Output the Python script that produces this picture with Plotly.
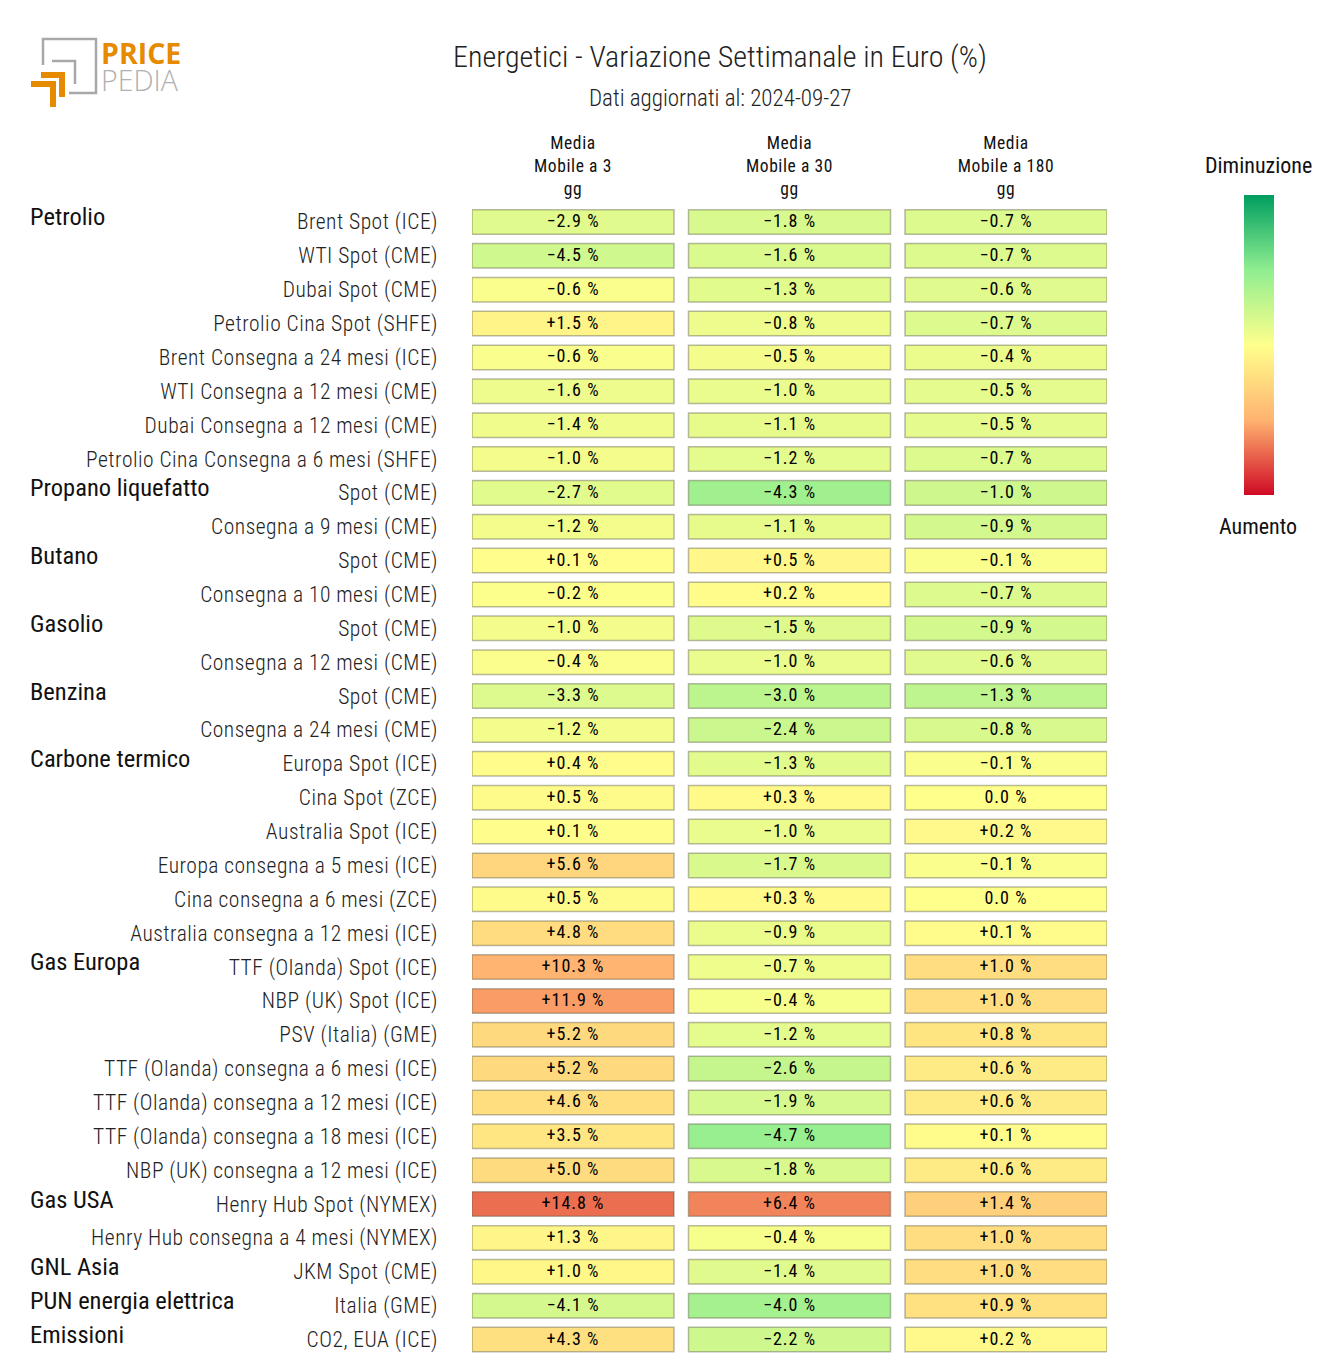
import plotly.graph_objects as go

W = 1320
H = 1357

# nomi delle righe, dall'alto verso il basso
row_labels = [
    'Brent Spot (ICE)', 'WTI Spot (CME)', 'Dubai Spot (CME)', 'Petrolio Cina Spot (SHFE)',
    'Brent Consegna a 24 mesi (ICE)', 'WTI Consegna a 12 mesi (CME)', 'Dubai Consegna a 12 mesi (CME)',
    'Petrolio Cina Consegna a 6 mesi (SHFE)', 'Spot (CME)', 'Consegna a 9 mesi (CME)', 'Spot (CME)',
    'Consegna a 10 mesi (CME)', 'Spot (CME)', 'Consegna a 12 mesi (CME)', 'Spot (CME)',
    'Consegna a 24 mesi (CME)', 'Europa Spot (ICE)', 'Cina Spot (ZCE)', 'Australia Spot (ICE)',
    'Europa consegna a 5 mesi (ICE)', 'Cina consegna a 6 mesi (ZCE)', 'Australia consegna a 12 mesi (ICE)',
    'TTF (Olanda) Spot (ICE)', 'NBP (UK) Spot (ICE)', 'PSV (Italia) (GME)', 'TTF (Olanda) consegna a 6 mesi (ICE)',
    'TTF (Olanda) consegna a 12 mesi (ICE)', 'TTF (Olanda) consegna a 18 mesi (ICE)', 'NBP (UK) consegna a 12 mesi (ICE)',
    'Henry Hub Spot (NYMEX)', 'Henry Hub consegna a 4 mesi (NYMEX)', 'JKM Spot (CME)', 'Italia (GME)', 'CO2, EUA (ICE)',
]

# nome del gruppo e riga dove comincia
group_names = ['Petrolio', 'Propano liquefatto', 'Butano', 'Gasolio', 'Benzina', 'Carbone termico',
               'Gas Europa', 'Gas USA', 'GNL Asia', 'PUN energia elettrica', 'Emissioni']
group_rows = [0, 8, 10, 12, 14, 16, 22, 29, 31, 32, 33]

col_labels = ['Media<br>Mobile a 3<br>gg', 'Media<br>Mobile a 30<br>gg', 'Media<br>Mobile a 180<br>gg']

mm3 = [-2.9, -4.5, -0.6, 1.5, -0.6, -1.6, -1.4, -1.0, -2.7, -1.2, 0.1, -0.2, -1.0, -0.4, -3.3, -1.2, 0.4,
       0.5, 0.1, 5.6, 0.5, 4.8, 10.3, 11.9, 5.2, 5.2, 4.6, 3.5, 5.0, 14.8, 1.3, 1.0, -4.1, 4.3]
mm30 = [-1.8, -1.6, -1.3, -0.8, -0.5, -1.0, -1.1, -1.2, -4.3, -1.1, 0.5, 0.2, -1.5, -1.0, -3.0, -2.4, -1.3,
        0.3, -1.0, -1.7, 0.3, -0.9, -0.7, -0.4, -1.2, -2.6, -1.9, -4.7, -1.8, 6.4, -0.4, -1.4, -4.0, -2.2]
mm180 = [-0.7, -0.7, -0.6, -0.7, -0.4, -0.5, -0.5, -0.7, -1.0, -0.9, -0.1, -0.7, -0.9, -0.6, -1.3, -0.8, -0.1,
         0.0, 0.2, -0.1, 0.0, 0.1, 1.0, 1.0, 0.8, 0.6, 0.6, 0.1, 0.6, 1.4, 1.0, 1.0, 0.9, 0.2]

# ogni colonna ha la sua scala di colore
col_values = [mm3, mm30, mm180]
col_ranges = [21, 10, 4.5]

scale = [[0, '#cf0a24'], [0.25, '#ffb370'], [0.5, '#ffff8c'], [0.75, '#90ee90'], [1, '#009e60']]

FONT = 'Roboto Condensed, Liberation Sans Narrow, Roboto'

# il testo originale e' un po' piu' spaziato
EXTRA_CSS = ("document.body.style.margin='0';"
             "document.head.insertAdjacentHTML('beforeend','<style>"
             ".bartext{letter-spacing:1px;translate:0 -1.5px}.xtick text{letter-spacing:.6px}.ytick text{letter-spacing:.5px}"
             "</style>');")


def px_x(v):
    return v / W


def px_y(v):
    return 1 - v / H


def fmt(v):
    if v == 0:
        return '0.0 %'
    return ('+' if v > 0 else '\u2212') + '%.1f %%' % abs(v)


def logo_path(points):
    return 'M' + ' L'.join('%.5f,%.5f' % (px_x(x), px_y(y)) for x, y in points)


def label(x, y, text, size, color='#111111', weight=400, family=FONT, anchor='center'):
    fig.add_annotation(xref='paper', yref='paper', x=px_x(x), y=px_y(y), text=text, showarrow=False, xanchor=anchor,
                       yanchor='middle', align=anchor, font=dict(family=family, size=size, color=color, weight=weight))


fig = go.Figure()

for i, values in enumerate(col_values):
    # colore su -v: la barra ha il verde (diminuzione) in alto
    marker = dict(color=[-v for v in values], colorscale=scale, cmin=-col_ranges[i], cmax=col_ranges[i],
                  line=dict(color='rgba(90,90,70,0.42)', width=1.5))
    if i == 0:
        marker['showscale'] = True
        marker['colorbar'] = dict(x=px_x(1244), xanchor='left', xpad=0, y=px_y(495), yanchor='bottom', ypad=0,
                                  len=300 / H, thickness=30, outlinewidth=0, showticklabels=False, ticks='')
    fig.add_trace(go.Bar(y=list(range(len(values))), x=[0.933] * len(values), base=i, orientation='h', width=0.724,
                         marker=marker, text=[fmt(v) for v in values], textposition='inside', textangle=0,
                         insidetextanchor='middle', constraintext='none', cliponaxis=False,
                         insidetextfont=dict(family=FONT, size=18, color='#000000'),
                         showlegend=False))

fig.update_layout(width=W, height=H, margin=dict(l=0, r=0, t=0, b=0), paper_bgcolor='white', plot_bgcolor='white',
                  barmode='overlay', font=dict(family=FONT, color='#222222'))
fig.update_xaxes(domain=[px_x(472), px_x(1107)], range=[0, 2.933], side='top', showgrid=False, zeroline=False,
                 anchor='free', position=px_y(198),
                 tickmode='array', tickvals=[0.4665, 1.4665, 2.4665], ticktext=col_labels, ticks='', tickangle=0,
                 tickfont=dict(family=FONT, size=17.5, color='#111111'))
fig.update_yaxes(domain=[px_y(1356.5), px_y(205)], range=[33.5, -0.5], showgrid=False, zeroline=False,
                 anchor='free', position=px_x(438),
                 tickmode='array', tickvals=list(range(len(row_labels))), ticktext=row_labels, ticks='',
                 tickfont=dict(family=FONT, size=21.5, color='#222222', weight=300))

for name, row in zip(group_names, group_rows):
    fig.add_annotation(xref='paper', yref='y', x=px_x(28), y=row - 0.15, text=name, showarrow=False, xanchor='left',
                       yanchor='middle', font=dict(family=FONT, size=24.5, color='#111111'))

label(720, 57, 'Energetici - Variazione Settimanale in Euro (%)', 30, '#222222', 300)
label(720, 98, 'Dati aggiornati al: 2024-09-27', 23, '#222222', 300)
label(1258, 166, 'Diminuzione', 22)
label(1258, 526, 'Aumento', 22)

# logo
for pts in [[(43, 65), (43, 39), (96, 39), (96, 93), (69, 93)], [(52, 61), (75, 61), (75, 84)]]:
    fig.add_shape(type='path', xref='paper', yref='paper', path=logo_path(pts), line=dict(color='#a8a8a8', width=2.5))
for pts in [[(31, 84), (53, 84), (53, 107)], [(41, 75), (62, 75), (62, 97)]]:
    fig.add_shape(type='path', xref='paper', yref='paper', path=logo_path(pts), line=dict(color='#e68a00', width=6))
# una sola scritta su due righe, la dimensione del font base fissa l'interlinea
label(99, 66.5, '<span style="font-size:28.5px;font-weight:700;fill:#e68a00">PRICE</span><br>'
                '<span style="font-size:28.5px;font-weight:300">PEDIA</span>',
      20.5, '#b0b0b0', 400, 'Open Sans', 'left')

fig.write_html('out.html', post_script=EXTRA_CSS, config=dict(displayModeBar=False))
